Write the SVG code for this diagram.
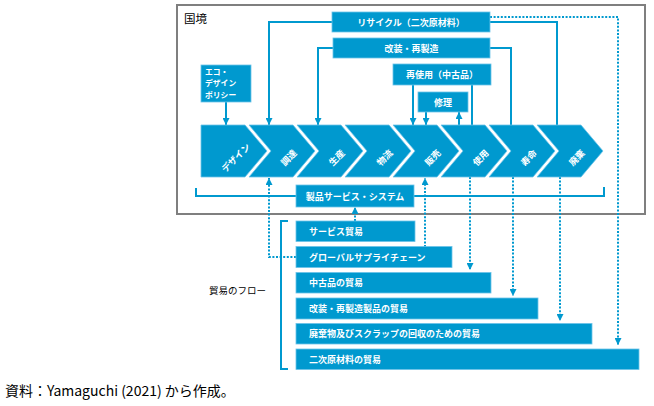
<svg xmlns="http://www.w3.org/2000/svg" width="654" height="406" viewBox="0 0 654 406">
<style>
.bx{fill:#0099cf;stroke:#6cc3e8;stroke-width:0.8}
.wt{fill:#fff;font-family:"Noto Sans CJK JP","Noto Sans",sans-serif;font-weight:bold;font-size:9px}
.sm{font-size:7.8px}
.mid{text-anchor:middle}
.ln{fill:none;stroke:#0099cf;stroke-width:2}
.dt{fill:none;stroke:#0099cf;stroke-width:2;stroke-dasharray:2 1.6}
.bk{fill:#000;font-family:"Noto Sans CJK JP","Noto Sans",sans-serif}
</style>
<defs>
<marker id="ah" viewBox="0 0 8 8" refX="8" refY="4" markerWidth="7" markerHeight="7" orient="auto" markerUnits="userSpaceOnUse"><path d="M0,0 L8,4 L0,8 z" fill="#0099cf"/></marker>
</defs>
<rect width="654" height="406" fill="#fff"/>
<g id="border">
<rect x="177" y="5" width="468" height="209" fill="#fff" stroke="#7f7f7f" stroke-width="2"/>
<text class="bk" x="184" y="23" font-size="11.5">国境</text>
</g>
<g id="connectors">
<path class="ln" d="M332,22 H269 V125" marker-end="url(#ah)"/>
<path class="ln" d="M333,48 H318 V125" marker-end="url(#ah)"/>
<path class="ln" d="M226,102 V125" marker-end="url(#ah)"/>
<path class="ln" d="M490,22 H557 V125"/>
<path class="ln" d="M490,48 H511 V125"/>
<path class="ln" d="M413,85 V125" marker-end="url(#ah)"/>
<path class="ln" d="M472,85 V125"/>
<path class="ln" d="M426,112 V125" marker-end="url(#ah)"/>
<path class="ln" d="M459,125 V112" marker-end="url(#ah)"/>
<path class="ln" d="M196,188 V196 H604 V187"/>
<path class="ln" d="M288,221 H281 V369 H288"/>
<path class="dt" d="M490,17 H618 V345" marker-end="url(#ah)"/>
<path class="dt" d="M296,257 H269 V178" marker-end="url(#ah)"/>
<path class="dt" d="M425,247 V178" marker-end="url(#ah)"/>
<path class="dt" d="M355,221 V207" marker-end="url(#ah)"/>
<path class="dt" d="M470,177 V270" marker-end="url(#ah)"/>
<path class="dt" d="M513,177 V296" marker-end="url(#ah)"/>
<path class="dt" d="M560,177 V321" marker-end="url(#ah)"/>
</g>
<g id="recycle"><rect class="bx" x="332" y="12" width="158" height="20"/><text class="wt mid" x="411" y="25.5">リサイクル（二次原材料）</text></g>
<g id="refurbish"><rect class="bx" x="333" y="38" width="157" height="20"/><text class="wt mid" x="411.5" y="51.5">改装・再製造</text></g>
<g id="reuse"><rect class="bx" x="393" y="64" width="98" height="21"/><text class="wt mid" x="442" y="78">再使用（中古品）</text></g>
<g id="repair"><rect class="bx" x="418" y="92" width="50" height="20"/><text class="wt mid" x="443" y="105.5">修理</text></g>
<g id="ecodesign"><rect class="bx" x="201" y="65" width="50" height="37"/><text class="wt sm"><tspan x="205" y="75">エコ・</tspan><tspan x="205" y="86.3">デザイン</tspan><tspan x="205" y="97.6">ポリシー</tspan></text></g>
<g id="chev-design"><path class="bx" d="M201,125 H245 L267,151 L245,177 H201 Z"/><text class="wt mid" transform="translate(236,158) rotate(-45)" y="3">デザイン</text></g>
<g id="chev-procure"><path class="bx" d="M249,125 H293 L315,151 L293,177 H249 L271,151 Z"/><text class="wt mid" transform="translate(289,158) rotate(-45)" y="3">調達</text></g>
<g id="chev-produce"><path class="bx" d="M297,125 H341 L363,151 L341,177 H297 L319,151 Z"/><text class="wt mid" transform="translate(337,158) rotate(-45)" y="3">生産</text></g>
<g id="chev-logistics"><path class="bx" d="M345,125 H389 L411,151 L389,177 H345 L367,151 Z"/><text class="wt mid" transform="translate(385,158) rotate(-45)" y="3">物流</text></g>
<g id="chev-sales"><path class="bx" d="M393,125 H437 L459,151 L437,177 H393 L415,151 Z"/><text class="wt mid" transform="translate(433,158) rotate(-45)" y="3">販売</text></g>
<g id="chev-use"><path class="bx" d="M441,125 H485 L507,151 L485,177 H441 L463,151 Z"/><text class="wt mid" transform="translate(481,158) rotate(-45)" y="3">使用</text></g>
<g id="chev-life"><path class="bx" d="M489,125 H533 L555,151 L533,177 H489 L511,151 Z"/><text class="wt mid" transform="translate(529,158) rotate(-45)" y="3">寿命</text></g>
<g id="chev-waste"><path class="bx" d="M537,125 H581 L603,151 L581,177 H537 L559,151 Z"/><text class="wt mid" transform="translate(577,158) rotate(-45)" y="3">廃棄</text></g>
<g id="pss"><rect class="bx" x="296" y="185" width="118" height="22"/><text class="wt mid" x="355" y="199.5">製品サービス・システム</text></g>
<g id="trade-label"><text class="bk" x="209" y="294" font-size="9.5">貿易のフロー</text></g>
<g id="t-service"><rect class="bx" x="296" y="221" width="119" height="20.5"/><text class="wt" x="309" y="234.5">サービス貿易</text></g>
<g id="t-gsc"><rect class="bx" x="296" y="246.5" width="156" height="21"/><text class="wt" x="309" y="260.5">グローバルサプライチェーン</text></g>
<g id="t-used"><rect class="bx" x="296" y="272.5" width="195" height="20.5"/><text class="wt" x="309" y="286">中古品の貿易</text></g>
<g id="t-refurb"><rect class="bx" x="296" y="298" width="242" height="21"/><text class="wt" x="309" y="311.5">改装・再製造製品の貿易</text></g>
<g id="t-waste"><rect class="bx" x="296" y="323.5" width="296" height="20.5"/><text class="wt" x="309" y="337">廃棄物及びスクラップの回収のための貿易</text></g>
<g id="t-secondary"><rect class="bx" x="296" y="349" width="343" height="20.5"/><text class="wt" x="309" y="362.5">二次原材料の貿易</text></g>
<text class="bk" x="5" y="396" font-size="14">資料：Yamaguchi (2021) から作成。</text>
</svg>
